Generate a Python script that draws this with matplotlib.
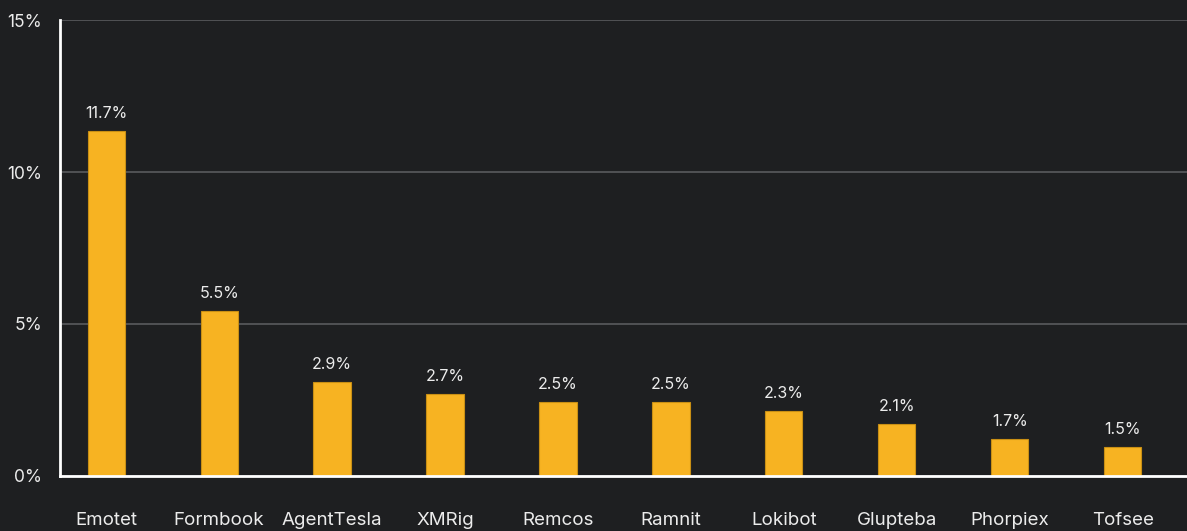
import matplotlib.pyplot as plt

families = ['Emotet', 'Formbook', 'AgentTesla', 'XMRig', 'Remcos',
            'Ramnit', 'Lokibot', 'Glupteba', 'Phorpiex', 'Tofsee']
heights = [11.35, 5.43, 3.09, 2.70, 2.43, 2.43, 2.14, 1.71, 1.22, 0.95]
value_labels = ['11.7%', '5.5%', '2.9%', '2.7%', '2.5%',
                '2.5%', '2.3%', '2.1%', '1.7%', '1.5%']
yticks = [0, 5, 10, 15]

bg = '#1e1f21'
bar_color = '#f7b322'
text_color = '#ececec'

plt.rcParams['font.family'] = ['Inter', 'DejaVu Sans']

fig = plt.figure(figsize=(11.87, 5.31), dpi=100, facecolor=bg)
ax = fig.add_axes([0.0505, 0.1036, 0.9495, 0.8587], facecolor=bg)

x = list(range(len(families)))
bars = ax.bar(x, heights, width=0.33, color=bar_color, edgecolor='#c98f14',
              linewidth=0.8, zorder=3)
for b, lab in zip(bars, value_labels):
    ax.annotate(lab, (b.get_x() + b.get_width() / 2, b.get_height()),
                xytext=(0, 7), textcoords='offset points', ha='center',
                va='bottom', color=text_color, fontsize=11.5)

ax.set_xlim(-0.41, 9.57)
ax.set_ylim(0, 15)
ax.set_yticks(yticks)
ax.set_yticklabels([f'{t}%' for t in yticks])
ax.set_xticks(x)
ax.set_xticklabels(families)
ax.grid(axis='y', color='#5a5b5e', linewidth=1.2, zorder=0)
ax.tick_params(axis='y', length=0, pad=13, labelsize=12.5, labelcolor=text_color)
ax.tick_params(axis='x', length=0, pad=26, labelsize=13.5, labelcolor=text_color)

for s in ['top', 'right']:
    ax.spines[s].set_visible(False)
for s in ['left', 'bottom']:
    ax.spines[s].set_color('white')
    ax.spines[s].set_linewidth(2)
    ax.spines[s].set_zorder(4)

fig.savefig('out.png', dpi=100, facecolor=bg)
